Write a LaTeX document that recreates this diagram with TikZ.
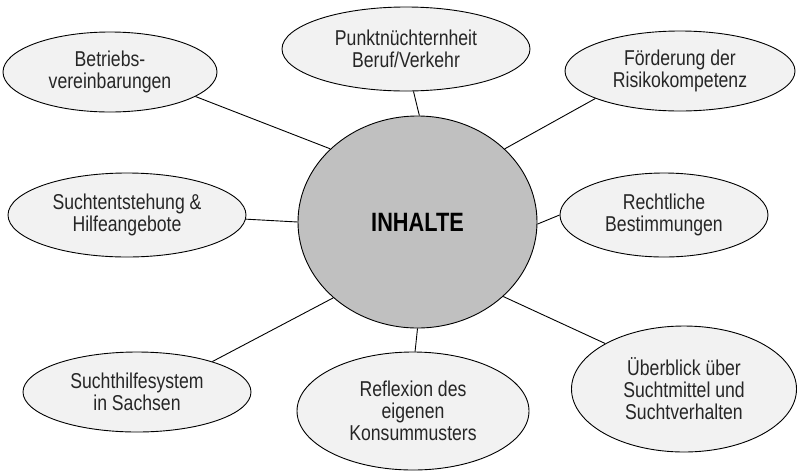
\documentclass[tikz,border=0pt]{standalone}
\usepackage{fontspec}
\setmainfont{Liberation Sans}[FakeStretch=0.82]
\usetikzlibrary{shapes.geometric}
\definecolor{bubblefill}{HTML}{F2F2F2}
\definecolor{hubfill}{HTML}{C0C0C0}
\definecolor{inktext}{HTML}{262626}
\begin{document}
\begin{tikzpicture}[x=1pt,y=-1pt,
  bubble/.style={ellipse, draw=black, line width=0.9pt, fill=bubblefill,
    inner sep=0pt, align=center, text=inktext,
    font=\fontsize{21.5}{22}\selectfont},
  hub/.style={ellipse, draw=black, line width=0.9pt, fill=hubfill,
    inner sep=0pt, text=black,
    font=\fontsize{26.5}{28}\selectfont\bfseries},
  link/.style={draw=black, line width=0.9pt}]
\useasboundingbox[fill=white] (0,0) rectangle (802,472);

% central topic
\node[hub, minimum width=239pt, minimum height=212pt] (c) at (417.5,222) {INHALTE};

% surrounding topics
\node[bubble, minimum width=214pt, minimum height=80pt] (bet) at (110,72)
  {Betriebs-\\vereinbarungen};
\node[bubble, minimum width=248pt, minimum height=84pt] (pun) at (406,49)
  {Punktnüchternheit\\Beruf/Verkehr};
\node[bubble, minimum width=230pt, minimum height=80pt] (foe) at (680,71)
  {Förderung der\\Risikokompetenz};
\node[bubble, minimum width=238pt, minimum height=84pt] (ent) at (127,215)
  {Suchtentstehung \&\\Hilfeangebote};
\node[bubble, minimum width=208pt, minimum height=84pt] (rec) at (664,215)
  {Rechtliche\\Bestimmungen};
\node[bubble, minimum width=228pt, minimum height=80pt] (hil) at (137,392)
  {Suchthilfesystem\\in Sachsen};
\node[bubble, minimum width=232pt, minimum height=118pt] (ref) at (413,411)
  {Reflexion des\\eigenen\\Konsummusters};
\node[bubble, minimum width=225pt, minimum height=126pt] (ueb) at (684,389)
  {Überblick über\\Suchtmittel und\\Suchtverhalten};

% spokes
\draw[link] (bet.-16) -- (c.140);
\draw[link] (pun.-80) -- (c.89);
\draw[link] (foe.198) -- (c.40);
\draw[link] (ent.-2) -- (c.180);
\draw[link] (rec.180) -- (c.-1);
\draw[link] (hil.22) -- (c.-138);
\draw[link] (ref.88) -- (c.-90);
\draw[link] (ueb.150) -- (c.-41);
\end{tikzpicture}
\end{document}
